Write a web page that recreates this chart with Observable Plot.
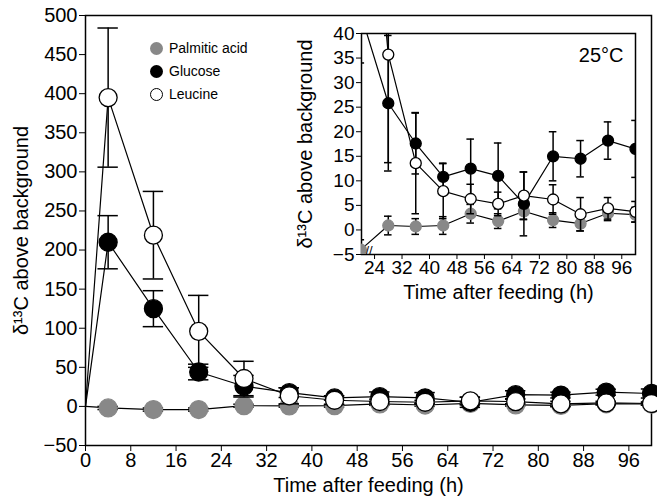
<!DOCTYPE html>
<html><head><meta charset="utf-8">
<script src="https://cdn.jsdelivr.net/npm/d3@7"></script>
<script src="https://cdn.jsdelivr.net/npm/@observablehq/plot@0.6"></script>
<style>
body{margin:0;background:#fff;font-family:"Liberation Sans",Arial,sans-serif}
#wrap{position:relative;width:657px;height:498px}
#main,#inset{position:absolute}
#inset{left:265px;top:15px}
.leg{position:absolute;left:150px;top:37px;font-size:14px;line-height:23px}
.leg span{display:inline-block;width:13px;height:13px;border-radius:50%;vertical-align:-2px;margin-right:6px;box-sizing:border-box}
</style></head><body>
<div id="wrap"><div id="main"></div>
<div class="leg"><div><span style="background:#888"></span>Palmitic acid</div><div><span style="background:#000"></span>Glucose</div><div><span style="background:#fff;border:1.3px solid #000"></span>Leucine</div></div>
<div id="inset"></div></div>
<script>
const times = [0,4,12,20,28,36,44,52,60,68,76,84,92,100];
const palmitic = [0,-2,-4,-4,0.9,0.7,0.9,3.3,1.8,3.8,2,1.3,3.4,3.1];
const palmiticErr = [0,2,2,2,1.9,1.6,1.8,1.9,1.5,1.7,1.5,1.5,1.5,1.5];
const glucose = [0,210,125,44,25.8,17.6,10.8,12.5,11,5.3,15,14.5,18.2,16.5];
const glucoseErr = [0,34,23,10,13.8,6.2,2.8,6,6.7,6.5,5,3.7,3.8,5.8];
const leucine = [0,395,219,96,35.7,13.6,7.9,6.3,5.3,7,6.2,3.2,4.4,3.7];
const leucineErr = [0,89,56,46,22,10.3,5.6,3,2.4,4.8,3,3.4,2.2,2.1];
const xLabel = "Time after feeding (h)";
const yLabel = "δ¹³C above background";

function rows(name, vals, errs, fill, shift){
  return times.map((t,i)=>({t: (shift && t===68 ? 67.5 : t), v: vals[i], e: errs[i], name, fill}));
}
function table(shift){
  return [
    ...rows("Palmitic acid", palmitic, palmiticErr, "#888", shift),
    ...rows("Glucose", glucose, glucoseErr, "#000", shift),
    ...rows("Leucine", leucine, leucineErr, "#fff", shift)
  ];
}
const series = ["Palmitic acid","Glucose","Leucine"];
const neg = d=>d<0?"−"+(-d):d;

function marks(data, r, cap){
  const m = [];
  for (const s of series){
    const d = data.filter(x=>x.name===s);
    const pts = d.filter(x=>x.t>0);
    const stroke = s==="Palmitic acid" ? "#888" : "#000";
    m.push(Plot.line(d,{x:"t",y:"v",stroke:"#000",strokeWidth:1.2}));
    m.push(Plot.ruleX(pts,{x:"t",y1:d=>d.v-d.e,y2:d=>d.v+d.e,stroke:"#000",strokeWidth:1.5}));
    m.push(Plot.ruleY(pts,{y:d=>d.v+d.e,x1:d=>d.t-cap,x2:d=>d.t+cap,stroke:"#000",strokeWidth:1.5}));
    m.push(Plot.ruleY(pts,{y:d=>d.v-d.e,x1:d=>d.t-cap,x2:d=>d.t+cap,stroke:"#000",strokeWidth:1.5}));
    m.push(Plot.dot(pts,{x:"t",y:"v",r,fill:"fill",stroke,strokeWidth:1.3}));
  }
  return m;
}
function sizeLabels(svg, px){
  svg.querySelectorAll("text").forEach(t=>{
    if (t.textContent===xLabel || t.textContent===yLabel) t.style.fontSize = px+"px";
  });
}

const main = Plot.plot({
  width:657, height:498,
  marginLeft:85, marginRight:6, marginTop:15, marginBottom:53,
  style:{fontFamily:"Liberation Sans, Arial, sans-serif", fontSize:"20px", color:"#000", background:"transparent"},
  x:{domain:[0,100], ticks:d3.range(0,97,8), tickSize:6, tickPadding:1, label:xLabel, labelAnchor:"center", labelArrow:"none", labelOffset:46},
  y:{domain:[-50,500], ticks:d3.range(-50,501,50), tickSize:6, tickPadding:2, label:yLabel, labelAnchor:"center", labelArrow:"none", labelOffset:72, tickFormat:neg},
  marks:[
    Plot.frame({stroke:"#000",strokeWidth:1.5}),
    ...marks(table(false), 9, 1.8)
  ]
});
sizeLabels(main, 20);
document.getElementById("main").append(main);

const inset = Plot.plot({
  width:385, height:300,
  marginLeft:96, marginRight:15, marginTop:18, marginBottom:61,
  style:{fontFamily:"Liberation Sans, Arial, sans-serif", fontSize:"19px", color:"#000", background:"transparent"},
  x:{domain:[20.2,100], ticks:d3.range(24,97,8), tickSize:5, tickPadding:1, label:xLabel, labelAnchor:"center", labelArrow:"none", labelOffset:44},
  y:{domain:[-5,40], ticks:d3.range(-5,41,5), tickSize:5, tickPadding:2, label:yLabel, labelAnchor:"center", labelArrow:"none", labelOffset:64, tickFormat:neg},
  clip:true,
  marks:[
    Plot.frame({stroke:"#000",strokeWidth:1.5}),
    ...marks(table(true), 5.5, 1.1),
    Plot.text(["25°C"],{frameAnchor:"top-right",dx:-12,dy:14,fontSize:20}),
    Plot.text(["//"],{frameAnchor:"bottom-left",dx:4,dy:0,fontSize:13,clip:false})
  ]
});
sizeLabels(inset, 20);
document.getElementById("inset").append(inset);
</script></body></html>
